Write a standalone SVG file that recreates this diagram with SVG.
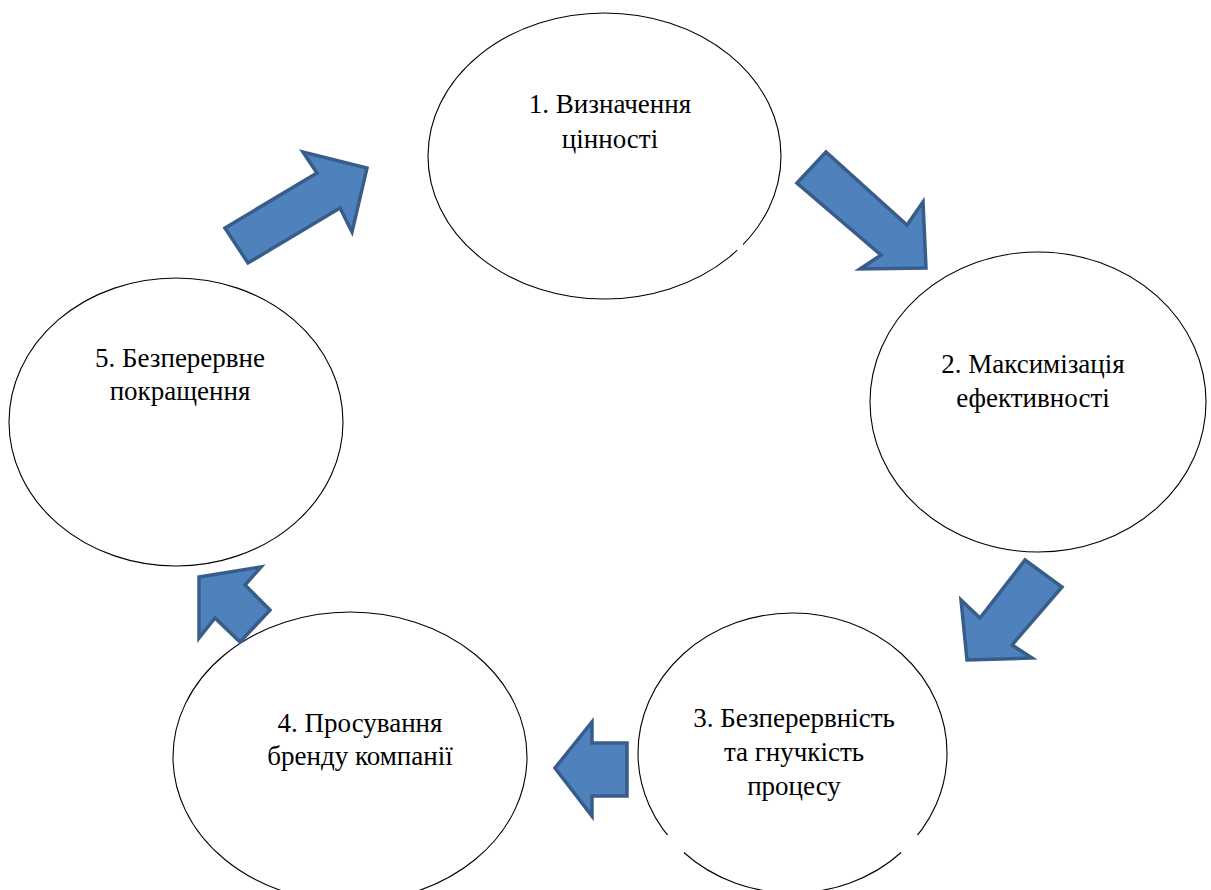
<svg xmlns="http://www.w3.org/2000/svg" width="1211" height="890" viewBox="0 0 1211 890">
  <style>
    .stage { fill: #ffffff; stroke: #000000; stroke-width: 1.1; }
    .label { font-family: "Liberation Serif", "Times New Roman", serif; font-size: 27px; fill: #000000; text-anchor: middle; }
    .flow { fill: #4F81BD; stroke: #385D8A; stroke-width: 3.5; stroke-linejoin: miter; }
    .gap { fill: #ffffff; stroke: none; }
  </style>
  <rect x="0" y="0" width="1211" height="890" fill="#ffffff"/>

  <g id="node-1">
    <ellipse class="stage" cx="604.5" cy="156" rx="176.5" ry="143"/>
    <rect class="gap" x="737" y="243.5" width="6" height="7"/>
    <text class="label" x="610" y="113">1. Визначення</text>
    <text class="label" x="610" y="148">цінності</text>
  </g>

  <g id="node-2">
    <ellipse class="stage" cx="1038" cy="402" rx="168" ry="150"/>
    <text class="label" x="1033" y="373">2. Максимізація</text>
    <text class="label" x="1033" y="407">ефективності</text>
  </g>

  <g id="node-3">
    <ellipse class="stage" cx="792.5" cy="753" rx="154.5" ry="140"/>
    <rect class="gap" x="660" y="835" width="24" height="18"/>
    <rect class="gap" x="901" y="835" width="24" height="18"/>
    <text class="label" x="794" y="727">3. Безперервність</text>
    <text class="label" x="794" y="761">та гнучкість</text>
    <text class="label" x="794" y="795">процесу</text>
  </g>

  <g id="node-4">
    <ellipse class="stage" cx="350" cy="757" rx="177" ry="145"/>
    <text class="label" x="360" y="732">4. Просування</text>
    <text class="label" x="360" y="765">бренду компанії</text>
  </g>

  <g id="node-5">
    <ellipse class="stage" cx="176" cy="422" rx="167" ry="144"/>
    <text class="label" x="180" y="367">5. Безперервне</text>
    <text class="label" x="180" y="400">покращення</text>
  </g>

  <g id="connectors">
    <!-- 1 to 2 -->
    <polygon class="flow" points="797,183 826,152 907,225 923,202 926,268 860,269 881,255"/>
    <!-- 2 to 3 -->
    <polygon class="flow" points="1025,560 1062,587 1012,645 1032,658 967,660 961,600 980,618"/>
    <!-- 3 to 4 -->
    <polygon class="flow" points="627,743 592,743 592,722 555,768 592,816 592,796 627,796"/>
    <!-- 4 to 5 -->
    <polygon class="flow" points="199,577 261,567 245,585 270,610 240,642 215,618 199,638"/>
    <!-- 5 to 1 -->
    <polygon class="flow" points="225,228 317,173 303,152 367,168 352,232 340,208 248,263"/>
  </g>
</svg>
